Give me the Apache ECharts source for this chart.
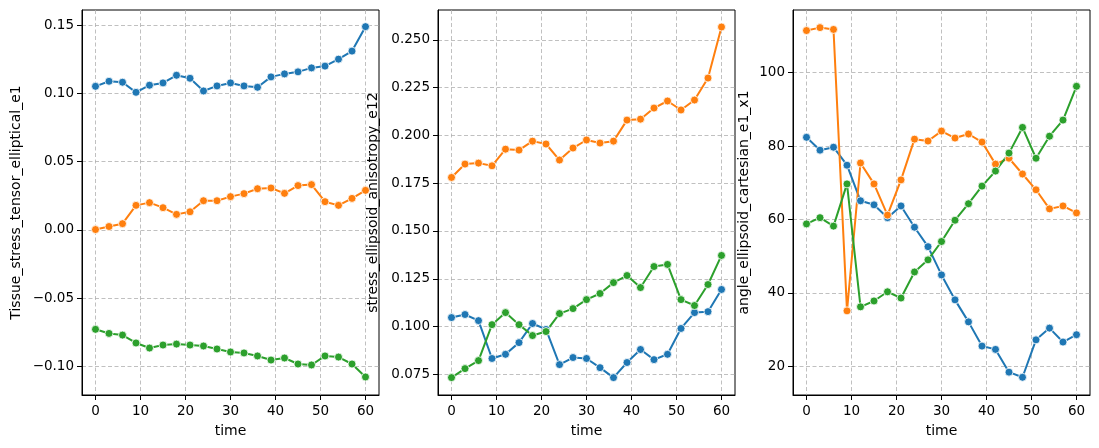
<!DOCTYPE html>
<head>
    <meta charset="utf-8">
    <title>Tissue stress</title>
    <script src="https://cdn.jsdelivr.net/npm/echarts@6/dist/echarts.min.js"></script>
    <style>
        body { margin: 0; background: #fff; }
        #chart { width: 1099px; height: 448px; }
    </style>
</head>

<body>
    <div id="chart"></div>

    <script>
        var times = [0, 3, 6, 9, 12, 15, 18, 21, 24, 27, 30, 33, 36, 39, 42, 45, 48, 51, 54, 57, 60];
        var xTicks = [0, 10, 20, 30, 40, 50, 60];

        // panel 1: Tissue_stress_tensor_elliptical_e1
        var tissueBlue = [0.1051, 0.1088, 0.1081, 0.1007, 0.1059, 0.1076, 0.1132, 0.1110, 0.1017, 0.1054, 0.1076,
            0.1054, 0.1044, 0.1120, 0.1142, 0.1157, 0.1186, 0.1199, 0.1250, 0.1309, 0.1488];
        var tissueOrange = [0.0002, 0.0024, 0.0045, 0.0179, 0.0199, 0.0162, 0.0113, 0.0132, 0.0213, 0.0213, 0.0243,
            0.0265, 0.0301, 0.0306, 0.0267, 0.0324, 0.0331, 0.0206, 0.0179, 0.0230, 0.0289];
        var tissueGreen = [-0.0729, -0.0759, -0.0771, -0.0829, -0.0866, -0.0844, -0.0837, -0.0844, -0.0851, -0.0873, -0.0895,
            -0.0902, -0.0924, -0.0954, -0.0939, -0.0983, -0.0990, -0.0924, -0.0932, -0.0983, -0.1078];
        var tissueTicks = [-0.10, -0.05, 0.00, 0.05, 0.10, 0.15];

        // panel 2: stress_ellipsoid_anisotropy_e12
        var anisoBlue = [0.1047, 0.1063, 0.1031, 0.0833, 0.0855, 0.0916, 0.1016, 0.0985, 0.0801, 0.0838, 0.0833,
            0.0785, 0.0733, 0.0812, 0.0880, 0.0827, 0.0855, 0.0990, 0.1073, 0.1078, 0.1194];
        var anisoOrange = [0.1780, 0.1850, 0.1855, 0.1841, 0.1928, 0.1923, 0.1970, 0.1955, 0.1871, 0.1934, 0.1976,
            0.1960, 0.1970, 0.2080, 0.2085, 0.2143, 0.2180, 0.2133, 0.2185, 0.2300, 0.2567];
        var anisoGreen = [0.0733, 0.0780, 0.0822, 0.1010, 0.1073, 0.1010, 0.0953, 0.0974, 0.1068, 0.1094, 0.1141,
            0.1173, 0.1230, 0.1267, 0.1204, 0.1314, 0.1325, 0.1141, 0.1110, 0.1220, 0.1372];
        var anisoTicks = [0.075, 0.100, 0.125, 0.150, 0.175, 0.200, 0.225, 0.250];

        // panel 3: angle_ellipsoid_cartesian_e1_x1
        var angleBlue = [82.4, 78.9, 79.7, 74.8, 65.1, 64.0, 60.5, 63.7, 57.9, 52.6, 44.9,
            38.1, 32.1, 25.5, 24.6, 18.4, 17.0, 27.2, 30.4, 26.6, 28.6];
        var angleOrange = [111.5, 112.3, 111.8, 35.1, 75.4, 69.7, 61.2, 70.8, 81.9, 81.4, 84.1,
            82.2, 83.3, 81.1, 75.1, 76.7, 72.4, 68.1, 62.9, 63.7, 61.8];
        var angleGreen = [58.8, 60.5, 58.2, 69.7, 36.2, 37.8, 40.3, 38.6, 45.7, 49.0, 54.0,
            59.8, 64.3, 69.1, 73.2, 78.1, 85.1, 76.7, 82.7, 87.1, 96.3];
        var angleTicks = [20, 40, 60, 80, 100];

        var blue = '#1f77b4', orange = '#ff7f0e', green = '#2ca02c';
        var gridLine = { show: true, lineStyle: { color: '#b0b0b0', width: 0.8, type: [4, 2.5] } };

        function minus(s) {
            return s.replace('-', '\u2212');
        }

        function lineSeries(idx, values, color) {
            return {
                type: 'line',
                xAxisIndex: idx,
                yAxisIndex: idx,
                data: times.map(function(t, i) { return [t, values[i]]; }),
                symbol: 'circle',
                symbolSize: 8,
                lineStyle: { width: 2, color: color },
                itemStyle: { color: color, borderColor: '#fff', borderWidth: 0.8 },
                emphasis: { disabled: true }
            };
        }

        function xAxis(idx) {
            return {
                type: 'value',
                gridIndex: idx,
                min: -3,
                max: 63,
                name: 'time',
                nameLocation: 'middle',
                nameGap: 29,
                nameTextStyle: { fontSize: 14, color: '#000', fontFamily: 'DejaVu Sans' },
                axisLine: { show: true, onZero: false, lineStyle: { color: '#000', width: 1 } },
                axisTick: { show: true, length: 5, customValues: xTicks, lineStyle: { color: '#000' } },
                axisLabel: { customValues: xTicks, color: '#000', fontSize: 13.5, margin: 9, fontFamily: 'DejaVu Sans' },
                splitLine: gridLine
            };
        }

        function yAxis(idx, min, max, ticks, name, gap, fmt) {
            return {
                type: 'value',
                gridIndex: idx,
                min: min,
                max: max,
                name: name,
                nameLocation: 'middle',
                nameGap: gap,
                nameTextStyle: { fontSize: 14, color: '#000', fontFamily: 'DejaVu Sans' },
                axisLine: { show: true, onZero: false, lineStyle: { color: '#000', width: 1 } },
                axisTick: { show: true, length: 5, customValues: ticks, lineStyle: { color: '#000' } },
                axisLabel: { customValues: ticks, color: '#000', fontSize: 13.5, margin: 8, fontFamily: 'DejaVu Sans', formatter: fmt },
                splitLine: gridLine
            };
        }

        var chart = echarts.init(document.getElementById('chart'));
        chart.setOption({
            animation: false,
            backgroundColor: '#fff',
            grid: [
                { left: 82, top: 10, width: 297, height: 385, show: true, borderColor: '#000', borderWidth: 1 },
                { left: 438, top: 10, width: 297, height: 385, show: true, borderColor: '#000', borderWidth: 1 },
                { left: 793, top: 10, width: 297, height: 385, show: true, borderColor: '#000', borderWidth: 1 }
            ],
            xAxis: [xAxis(0), xAxis(1), xAxis(2)],
            yAxis: [
                yAxis(0, -0.121, 0.161, tissueTicks, 'Tissue_stress_tensor_elliptical_e1', 59,
                    function(v) { return minus(v.toFixed(2)); }),
                yAxis(1, 0.0642, 0.2656, anisoTicks, 'stress_ellipsoid_anisotropy_e12', 58,
                    function(v) { return v.toFixed(3); }),
                yAxis(2, 12.17, 117.1, angleTicks, 'angle_ellipsoid_cartesian_e1_x1', 42,
                    function(v) { return String(Math.round(v)); })
            ],
            series: [
                lineSeries(0, tissueBlue, blue),
                lineSeries(0, tissueOrange, orange),
                lineSeries(0, tissueGreen, green),
                lineSeries(1, anisoBlue, blue),
                lineSeries(1, anisoOrange, orange),
                lineSeries(1, anisoGreen, green),
                lineSeries(2, angleBlue, blue),
                lineSeries(2, angleOrange, orange),
                lineSeries(2, angleGreen, green)
            ]
        });
    </script>

</body>
